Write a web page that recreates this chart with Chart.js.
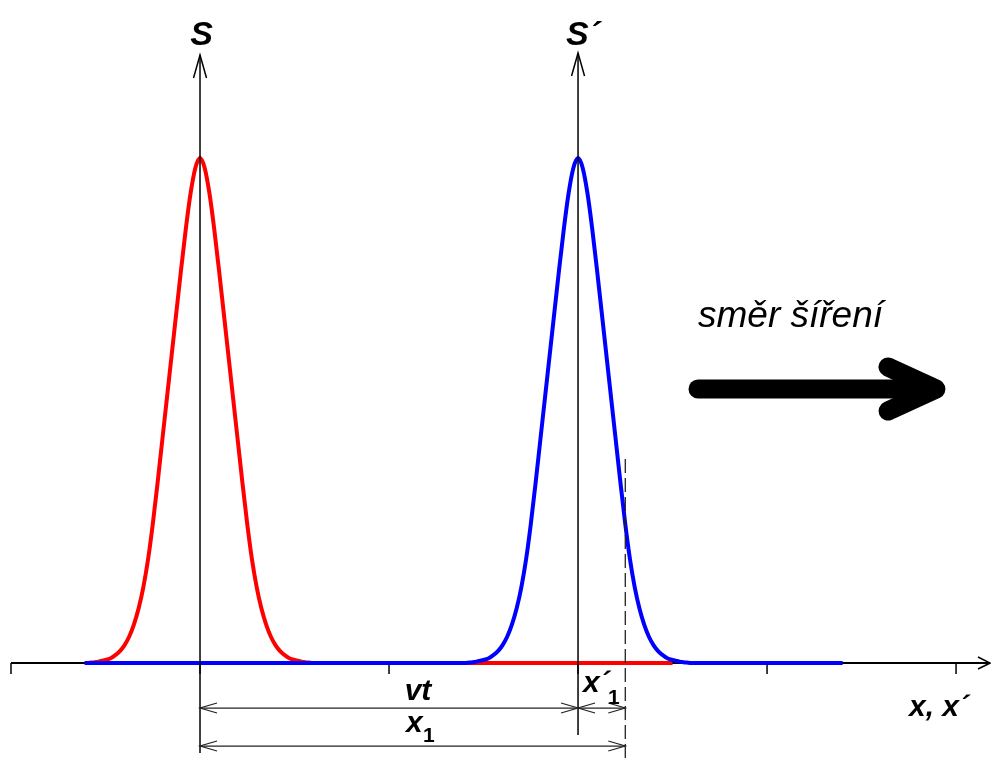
<!DOCTYPE html>
<html>
<head>
<meta charset="utf-8">
<script src="https://cdn.jsdelivr.net/npm/chart.js@4.4.0/dist/chart.umd.min.js"></script>
<style>
  html, body { margin: 0; padding: 0; background: #fff; }
  canvas { display: block; }
</style>
</head>
<body>
<canvas id="pulseChart" width="991" height="760"></canvas>
<script>
// pulse shape: offset from the pulse centre, height relative to the peak
const pulseOffsets = [-0.6, -0.575, -0.55, -0.525, -0.5, -0.475, -0.45, -0.425, -0.4, -0.375, -0.35, -0.325,
  -0.3, -0.275, -0.25, -0.225, -0.2, -0.175, -0.15, -0.125, -0.1, -0.075, -0.05, -0.025, 0,
  0.025, 0.05, 0.075, 0.1, 0.125, 0.15, 0.175, 0.2, 0.225, 0.25, 0.275, 0.3,
  0.325, 0.35, 0.375, 0.4, 0.425, 0.45, 0.475, 0.5, 0.525, 0.55, 0.575, 0.6];
const pulseHeights = [0, 0.001, 0.002, 0.004, 0.006, 0.009, 0.015, 0.023, 0.035, 0.052, 0.076, 0.108,
  0.15, 0.205, 0.275, 0.355, 0.44, 0.525, 0.61, 0.695, 0.78, 0.86, 0.93, 0.98, 1,
  0.98, 0.93, 0.86, 0.78, 0.695, 0.61, 0.525, 0.44, 0.355, 0.275, 0.205, 0.15,
  0.108, 0.076, 0.052, 0.035, 0.023, 0.015, 0.009, 0.006, 0.004, 0.002, 0.001, 0];

const redCentre = 0;      // pulse in S
const blueCentre = 2;     // pulse in S´
const redRange = [-0.61, 2.5];
const blueRange = [-0.61, 3.4];
const axisTicks = [-1, 0, 1, 2, 3, 4];
const x1Value = 2.25;

function pulsePoints(centre, range) {
  let pts = [{ x: range[0], y: 0 }];
  pulseOffsets.forEach(function (o, i) {
    pts.push({ x: centre + o, y: pulseHeights[i] });
  });
  pts.push({ x: range[1], y: 0 });
  return pts;
}

const FONT = '"Liberation Sans", Arial, sans-serif';

function arrowHead(ctx, tx, ty, dir, len, half) {
  // open arrow head, dir = +1 points right, -1 points left
  ctx.beginPath();
  ctx.moveTo(tx - dir * len, ty - half);
  ctx.lineTo(tx, ty);
  ctx.lineTo(tx - dir * len, ty + half);
  ctx.stroke();
}

const drawingPlugin = {
  id: 'drawing',
  beforeDatasetsDraw(chart) {
    const ctx = chart.ctx;
    const sx = chart.scales.x, sy = chart.scales.y;
    const y0 = sy.getPixelForValue(0);
    const right = chart.chartArea.right + 2;
    ctx.save();
    ctx.strokeStyle = '#000';
    ctx.lineWidth = 2;
    ctx.beginPath();
    ctx.moveTo(sx.getPixelForValue(-1), y0);
    ctx.lineTo(right, y0);
    ctx.stroke();
    // ticks
    ctx.lineWidth = 1.5;
    axisTicks.forEach(function (t) {
      const x = sx.getPixelForValue(t);
      ctx.beginPath();
      ctx.moveTo(x, y0);
      ctx.lineTo(x, y0 + 11);
      ctx.stroke();
    });
    arrowHead(ctx, right, y0, 1, 12, 6);
    ctx.restore();
  },
  afterDatasetsDraw(chart) {
    const ctx = chart.ctx;
    const sx = chart.scales.x, sy = chart.scales.y;
    const y0 = sy.getPixelForValue(0);
    const xS = sx.getPixelForValue(redCentre);
    const xS2 = sx.getPixelForValue(blueCentre);
    const xX1 = sx.getPixelForValue(x1Value);
    ctx.save();

    // vertical axes S and S´
    ctx.strokeStyle = '#000';
    ctx.lineWidth = 1.5;
    [[xS, 55, y0 + 90], [xS2, 53, y0 + 72]].forEach(function (a) {
      ctx.beginPath();
      ctx.moveTo(a[0], a[2]);
      ctx.lineTo(a[0], a[1]);
      ctx.stroke();
      ctx.beginPath();
      ctx.moveTo(a[0] - 6.5, a[1] + 23);
      ctx.lineTo(a[0], a[1]);
      ctx.lineTo(a[0] + 6.5, a[1] + 23);
      ctx.stroke();
    });

    // dashed line at x1
    ctx.strokeStyle = '#222';
    ctx.lineWidth = 1.3;
    ctx.setLineDash([14, 5]);
    ctx.beginPath();
    ctx.moveTo(xX1, 459);
    ctx.lineTo(xX1, 760);
    ctx.stroke();
    ctx.setLineDash([]);

    // dimension lines
    ctx.strokeStyle = '#222';
    ctx.lineWidth = 1.2;
    const yA = y0 + 45, yB = y0 + 83;
    [[xS, xS2, yA], [xS2, xX1, yA], [xS, xX1, yB]].forEach(function (d) {
      ctx.beginPath();
      ctx.moveTo(d[0], d[2]);
      ctx.lineTo(d[1], d[2]);
      ctx.stroke();
      arrowHead(ctx, d[0], d[2], -1, 17, 5);
      arrowHead(ctx, d[1], d[2], 1, 17, 5);
    });

    // thick direction arrow
    ctx.strokeStyle = '#000';
    ctx.lineWidth = 19;
    ctx.lineCap = 'round';
    ctx.lineJoin = 'round';
    ctx.beginPath();
    ctx.moveTo(698, 389);
    ctx.lineTo(932, 389);
    ctx.stroke();
    ctx.beginPath();
    ctx.moveTo(888, 367);
    ctx.lineTo(936, 389);
    ctx.lineTo(888, 411);
    ctx.stroke();

    // texts
    ctx.fillStyle = '#000';
    ctx.textBaseline = 'alphabetic';
    ctx.textAlign = 'center';
    ctx.font = 'italic bold 34px ' + FONT;
    ctx.fillText('S', xS + 1.5, 45);
    ctx.textAlign = 'left';
    ctx.fillText('S´', xS2 - 12, 45);

    ctx.font = 'italic 37px ' + FONT;
    ctx.fillText('směr šíření', 698, 327);

    ctx.font = 'italic bold 30px ' + FONT;
    ctx.textAlign = 'center';
    ctx.fillText('vt', 418, 700);
    ctx.textAlign = 'left';
    ctx.fillText('x', 406, 732);
    ctx.fillText('x´', 583, 692);
    ctx.fillText('x, x´', 909, 716);
    ctx.font = 'bold 21px ' + FONT;
    ctx.fillText('1', 423, 742);
    ctx.fillText('1', 608, 704);

    ctx.restore();
  }
};

new Chart(document.getElementById('pulseChart'), {
  type: 'line',
  data: {
    datasets: [
      {
        label: 'S´',
        data: pulsePoints(blueCentre, blueRange),
        borderColor: '#0000ff',
        borderWidth: 4,
        pointRadius: 0,
        cubicInterpolationMode: 'monotone',
        fill: false
      },
      {
        label: 'S',
        data: pulsePoints(redCentre, redRange),
        borderColor: '#ff0000',
        borderWidth: 4,
        pointRadius: 0,
        cubicInterpolationMode: 'monotone',
        fill: false
      }
    ]
  },
  options: {
    responsive: false,
    animation: false,
    devicePixelRatio: 1,
    layout: { padding: { left: 11, right: 3, top: 0, bottom: 0 } },
    scales: {
      x: { type: 'linear', min: -1, max: 4.169, display: false },
      y: { type: 'linear', min: -0.192, max: 1.313, display: false }
    },
    plugins: {
      legend: { display: false },
      tooltip: { enabled: false }
    }
  },
  plugins: [drawingPlugin]
});
</script>
</body>
</html>
